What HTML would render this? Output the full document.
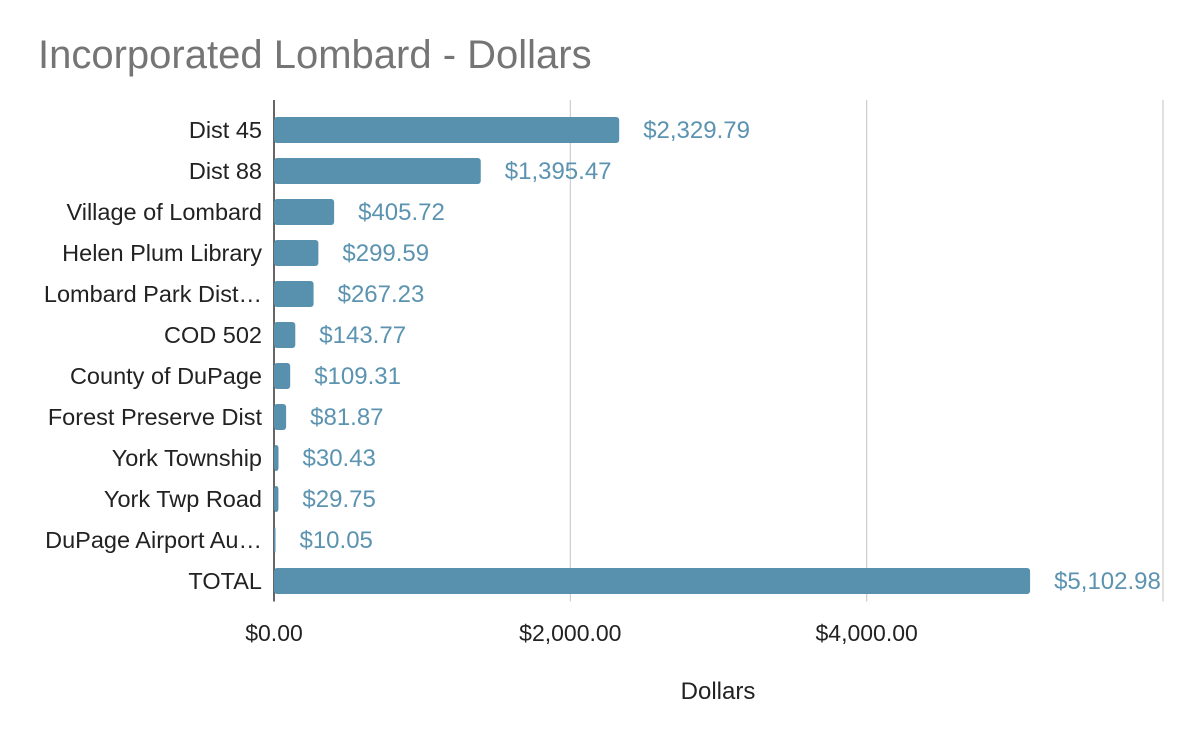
<!DOCTYPE html>
<html><head><meta charset="utf-8"><style>
body{margin:0;background:#fff;width:1200px;height:742px;overflow:hidden;font-family:"Liberation Sans",Arial,sans-serif}
</style></head><body>
<svg id="chart" width="1200" height="742" xmlns="http://www.w3.org/2000/svg">
<text x="38" y="68" font-size="40" fill="#757575">Incorporated Lombard - Dollars</text>
<g id="grid"></g><g id="bars"></g>
<text x="718" y="699" font-size="24" fill="#222" text-anchor="middle">Dollars</text>
</svg>
<script>
const categories=["Dist 45","Dist 88","Village of Lombard","Helen Plum Library","Lombard Park Dist…","COD 502","County of DuPage","Forest Preserve Dist","York Township","York Twp Road","DuPage Airport Au…","TOTAL"];
const values=[2329.79,1395.47,405.72,299.59,267.23,143.77,109.31,81.87,30.43,29.75,10.05,5102.98];
const valueLabels=["$2,329.79","$1,395.47","$405.72","$299.59","$267.23","$143.77","$109.31","$81.87","$30.43","$29.75","$10.05","$5,102.98"];
const ticks=[0,2000,4000,6000];
const tickLabels=["$0.00","$2,000.00","$4,000.00",""];
const NS="http://www.w3.org/2000/svg";
const x0=274,x1=1163,gridTop=100,plotTop=109.5,plotBottom=601.5;
const xs=v=>x0+(v/6000)*(x1-x0);
const band=(plotBottom-plotTop)/categories.length;
const ys=i=>plotTop+band*i+band/2;
function mk(t,a,p){const e=document.createElementNS(NS,t);for(const k in a)e.setAttribute(k,a[k]);p.appendChild(e);return e;}
const g=document.getElementById('grid'),b=document.getElementById('bars');
ticks.forEach((t,i)=>{
 const l=mk('line',{x1:xs(t),x2:xs(t),y1:gridTop,y2:plotBottom,stroke:i==0?'#333':'#ccc','stroke-width':i==0?1.5:1.2},g);
 
 
 if(tickLabels[i]){const tx=mk('text',{x:xs(t),y:641,'font-size':23,fill:'#222','text-anchor':'middle'},g);tx.textContent=tickLabels[i];
 
 }
});
categories.forEach((c,i)=>{
 const y=ys(i),w=xs(values[i])-x0;
 const r=mk('rect',{x:x0,y:y-13,width:Math.max(w,1.5),height:26,rx:3,fill:'#5891ad'},b);
 
 
 const cl=mk('text',{x:262,y:y+8,'font-size':23.5,fill:'#222','text-anchor':'end'},b);cl.textContent=c;
 
 
 const vl=mk('text',{x:x0+w+24,y:y+8,'font-size':24,fill:'#5b93b0'},b);vl.textContent=valueLabels[i];
 
 
});
</script>
</body></html>
